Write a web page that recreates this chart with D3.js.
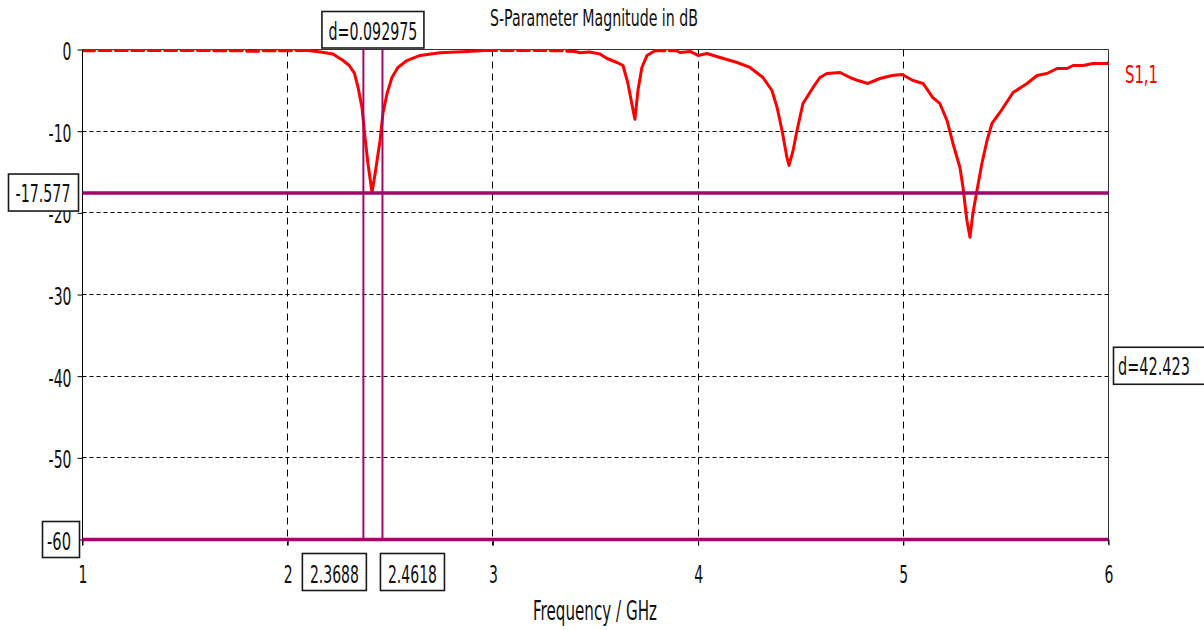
<!DOCTYPE html>
<html>
<head>
<meta charset="utf-8">
<script src="https://cdn.jsdelivr.net/npm/d3@7"></script>
<style>
  html, body { margin: 0; padding: 0; background: #fff; overflow: hidden; }
  svg { display: block; font-family: "DejaVu Sans", "Liberation Sans", sans-serif; }
</style>
</head>
<body>
<svg id="chart" width="1204" height="630"></svg>
<script>
// ---- data ----
const xTicks = [1, 2, 3, 4, 5, 6];
const yTicks = [0, -10, -20, -30, -40, -50, -60];
const freqMarkers = [2.3688, 2.4618];
const levelMarkers = [-17.577, -60];
const freqDeltaLabel = "d=0.092975";
const seriesName = "S1,1";
const chartTitle = "S-Parameter Magnitude in dB";
const xTitle = "Frequency / GHz";

// S11 trace: [frequency GHz, magnitude dB]
const s11Trace = [
  [1.000,-0.15],[1.058,-0.15],[1.062,0.4],[1.078,0.4],
  [1.080,-0.12],[1.138,-0.12],[1.142,0.4],[1.158,0.4],
  [1.160,-0.12],[1.218,-0.12],[1.222,0.4],[1.238,0.4],
  [1.240,-0.12],[1.298,-0.12],[1.302,0.4],[1.318,0.4],
  [1.320,-0.12],[1.378,-0.12],[1.382,0.4],[1.398,0.4],
  [1.400,-0.12],[1.458,-0.12],[1.462,0.4],[1.478,0.4],
  [1.480,-0.12],[1.538,-0.12],[1.542,0.4],[1.558,0.4],
  [1.560,-0.12],[1.618,-0.12],[1.622,0.4],[1.638,0.4],
  [1.640,-0.15],[1.698,-0.15],[1.702,0.4],[1.718,0.4],
  [1.720,-0.15],[1.778,-0.15],[1.782,0.4],[1.798,0.4],
  [1.800,-0.20],[1.858,-0.20],[1.862,0.4],[1.878,0.4],
  [1.880,-0.15],[1.938,-0.15],[1.942,0.4],[1.958,0.4],
  [1.960,-0.15],[2.018,-0.15],[2.022,0.4],[2.038,0.4],
  [2.040,-0.12],[2.100,-0.12],
  [2.160,-0.30],[2.220,-0.55],[2.270,-1.35],[2.300,-1.96],[2.325,-2.90],
  [2.343,-4.65],[2.362,-7.10],[2.377,-10.80],[2.391,-13.96],[2.411,-17.50],
  [2.426,-15.18],[2.450,-11.14],[2.464,-7.84],[2.484,-5.40],[2.508,-3.43],
  [2.537,-2.20],[2.581,-1.35],[2.645,-0.73],[2.742,-0.40],[2.874,-0.25],[2.940,-0.15],
  [2.960,-0.12],[3.018,-0.12],[3.022,0.4],[3.038,0.4],
  [3.040,-0.12],[3.098,-0.12],[3.102,0.4],[3.118,0.4],
  [3.120,-0.12],[3.178,-0.12],[3.182,0.4],[3.198,0.4],
  [3.200,-0.12],[3.258,-0.12],[3.262,0.4],[3.278,0.4],
  [3.280,-0.15],[3.338,-0.15],[3.342,0.4],[3.358,0.4],
  [3.360,-0.20],[3.400,-0.25],
  [3.424,-0.40],[3.470,-0.30],[3.522,-0.55],[3.556,-1.10],[3.605,-1.59],
  [3.634,-1.96],[3.658,-4.16],[3.683,-7.40],[3.692,-8.55],[3.707,-5.00],
  [3.726,-2.20],[3.751,-0.73],[3.775,-0.37],
  [3.790,-0.15],[3.838,-0.15],[3.842,0.4],[3.858,0.4],[3.860,-0.15],[3.895,-0.15],
  [3.912,-0.37],[3.961,-0.24],[4.000,-0.73],[4.043,-0.49],[4.107,-0.98],
  [4.190,-1.59],[4.253,-2.20],[4.316,-3.43],[4.360,-5.02],[4.385,-7.10],
  [4.409,-9.92],[4.433,-13.22],[4.443,-14.20],[4.463,-12.37],[4.482,-9.92],
  [4.511,-6.61],[4.560,-4.65],[4.594,-3.43],[4.628,-2.94],[4.692,-2.82],
  [4.740,-3.43],[4.779,-3.80],[4.828,-4.16],[4.886,-3.55],[4.945,-3.18],
  [4.994,-3.06],[5.047,-3.80],[5.096,-4.16],[5.144,-5.88],[5.178,-6.61],
  [5.213,-8.69],[5.242,-11.51],[5.276,-14.45],[5.291,-16.90],[5.310,-20.94],
  [5.325,-23.00],[5.339,-20.08],[5.359,-17.26],[5.383,-13.96],[5.408,-11.14],
  [5.432,-9.06],[5.471,-7.71],[5.535,-5.27],[5.603,-4.16],[5.652,-3.18],
  [5.700,-2.94],[5.749,-2.33],[5.798,-2.33],[5.827,-1.96],[5.876,-1.96],
  [5.924,-1.71],[5.993,-1.71],[6.000,-1.59]
];

// ---- layout ----
const x = d3.scaleLinear().domain([1, 6]).range([82.5, 1108.5]);
const y = d3.scaleLinear().domain([0, -60]).range([49.5, 539.5]);
const svg = d3.select("#chart");

const MARKER = "#a0086a";
const SQUEEZE = 0.56;           // narrow glyph width for the label face
const crisp = v => Math.round(v - 0.5) + 0.5;

function squeeze(sel, k) {
  sel.each(function () {
    const w = this.getComputedTextLength();
    this.setAttribute("textLength", (w * k).toFixed(1));
    this.setAttribute("lengthAdjust", "spacingAndGlyphs");
  });
}
function fit(sel, w) {
  sel.attr("textLength", w).attr("lengthAdjust", "spacingAndGlyphs");
}

// ---- grid ----
const grid = svg.append("g")
  .attr("stroke", "#000").attr("stroke-width", 1).attr("fill", "none");
grid.selectAll("line.gh")
  .data(yTicks.filter(v => v !== 0 && v !== -60))
  .join("line").attr("class", "gh")
  .attr("x1", x(1)).attr("x2", x(6))
  .attr("y1", d => crisp(y(d))).attr("y2", d => crisp(y(d)))
  .attr("stroke-dasharray", "4,3");
grid.selectAll("line.gv")
  .data(xTicks.filter(v => v !== 1 && v !== 6))
  .join("line").attr("class", "gv")
  .attr("x1", d => crisp(x(d))).attr("x2", d => crisp(x(d)))
  .attr("y1", y(0)).attr("y2", y(-60) + 6)
  .attr("stroke-dasharray", "7,5");

// ---- frame ----
svg.append("path")
  .attr("d", `M${x(1)},${y(0)}H${x(6)}V${y(-60) + 5}`)
  .attr("fill", "none").attr("stroke", "#333").attr("stroke-width", 1);

// ---- axes ----
const yAxis = svg.append("g")
  .attr("transform", `translate(${x(1)},0)`)
  .call(d3.axisLeft(y).tickValues(yTicks).tickSize(5).tickSizeOuter(0)
        .tickPadding(6).tickFormat(d => String(d)));
const xAxis = svg.append("g")
  .attr("transform", `translate(0,${y(-60)})`)
  .call(d3.axisBottom(x).tickValues(xTicks).tickSize(6).tickSizeOuter(0)
        .tickFormat(d => String(d)));

[yAxis, xAxis].forEach(a => {
  a.select(".domain").attr("stroke", "#000").attr("stroke-width", 1);
  a.selectAll(".tick line").attr("stroke", "#000");
  a.selectAll("text").attr("font-size", 25).attr("fill", "#111")
    .attr("font-family", "DejaVu Sans, sans-serif");
});
yAxis.select(".domain").attr("d", `M0,${y(0)}V${y(-60) + 6}`);
yAxis.selectAll("text").attr("dy", "10px");
xAxis.selectAll("text").attr("y", 43.5).attr("dy", 0);
squeeze(yAxis.selectAll("text"), SQUEEZE);
squeeze(xAxis.selectAll("text"), SQUEEZE);

// ---- S11 trace ----
svg.append("clipPath").attr("id", "plotClip")
  .append("rect")
  .attr("x", x(1)).attr("y", y(0) - 0.5)
  .attr("width", x(6) - x(1) + 2).attr("height", y(-60) - y(0) + 1);

const line = d3.line().x(d => x(d[0])).y(d => y(d[1]));
svg.append("path")
  .datum(s11Trace)
  .attr("clip-path", "url(#plotClip)")
  .attr("d", line)
  .attr("fill", "none")
  .attr("stroke", "#ff0000")
  .attr("stroke-width", 3)
  .attr("stroke-linejoin", "round");

// ---- markers ----
svg.append("g").selectAll("line")
  .data(freqMarkers).join("line")
  .attr("x1", d => x(d)).attr("x2", d => x(d))
  .attr("y1", y(0)).attr("y2", y(-60))
  .attr("stroke", MARKER).attr("stroke-width", 2);
svg.append("g").selectAll("line")
  .data(levelMarkers).join("line")
  .attr("x1", x(1)).attr("x2", x(6))
  .attr("y1", d => y(d)).attr("y2", d => y(d))
  .attr("stroke", MARKER).attr("stroke-width", 3.5);

// ---- boxed marker readouts ----
function readout(left, top, w, h, label, tx, anchor, tw, baseline, size) {
  const g = svg.append("g");
  g.append("rect")
    .attr("x", left).attr("y", top).attr("width", w).attr("height", h)
    .attr("fill", "#fff").attr("stroke", "#1a1a1a").attr("stroke-width", 1.6);
  g.append("text")
    .attr("x", tx).attr("y", baseline)
    .attr("text-anchor", anchor)
    .attr("font-size", size || 25).attr("fill", "#111")
    .text(label)
    .call(fit, tw);
}

const mx0 = x(freqMarkers[0]), mx1 = x(freqMarkers[1]);
const midX = (mx0 + mx1) / 2;
readout(midX - 51, 11.5, 102, 36.5, freqDeltaLabel, midX, "middle", 89, 40, 24);

const yL = y(levelMarkers[0]), yB = y(levelMarkers[1]);
readout(8.5, yL - 19, 70, 37, String(levelMarkers[0]), 43, "middle", 55, yL + 8.5);
readout(42.5, yB - 18, 37, 36, String(levelMarkers[1]), 59, "middle", 24, yB + 10.5);

readout(mx0 + 3 - 64, 553.5, 64, 37, String(freqMarkers[0]), mx0 + 3 - 32, "middle", 49, 583);
readout(mx1 - 2, 553.5, 64, 37, String(freqMarkers[1]), mx1 - 2 + 32, "middle", 49, 583);

const levelDelta = (levelMarkers[0] - levelMarkers[1]).toFixed(3);
const midY = (yL + yB) / 2;
readout(1113.5, midY - 19, 100, 37, "d=" + levelDelta, 1118, "start", 72, midY + 9);

// ---- titles ----
svg.append("text")
  .attr("x", 594).attr("y", 26).attr("text-anchor", "middle")
  .attr("font-size", 23).attr("fill", "#111")
  .text(chartTitle).call(fit, 208);

svg.append("text")
  .attr("x", 595).attr("y", 620).attr("text-anchor", "middle")
  .attr("font-size", 26).attr("fill", "#111")
  .text(xTitle).call(fit, 124);

svg.append("text")
  .attr("x", 1125).attr("y", 83)
  .attr("font-size", 25).attr("fill", "#ff0000")
  .text(seriesName).call(fit, 33);
</script>
</body>
</html>
